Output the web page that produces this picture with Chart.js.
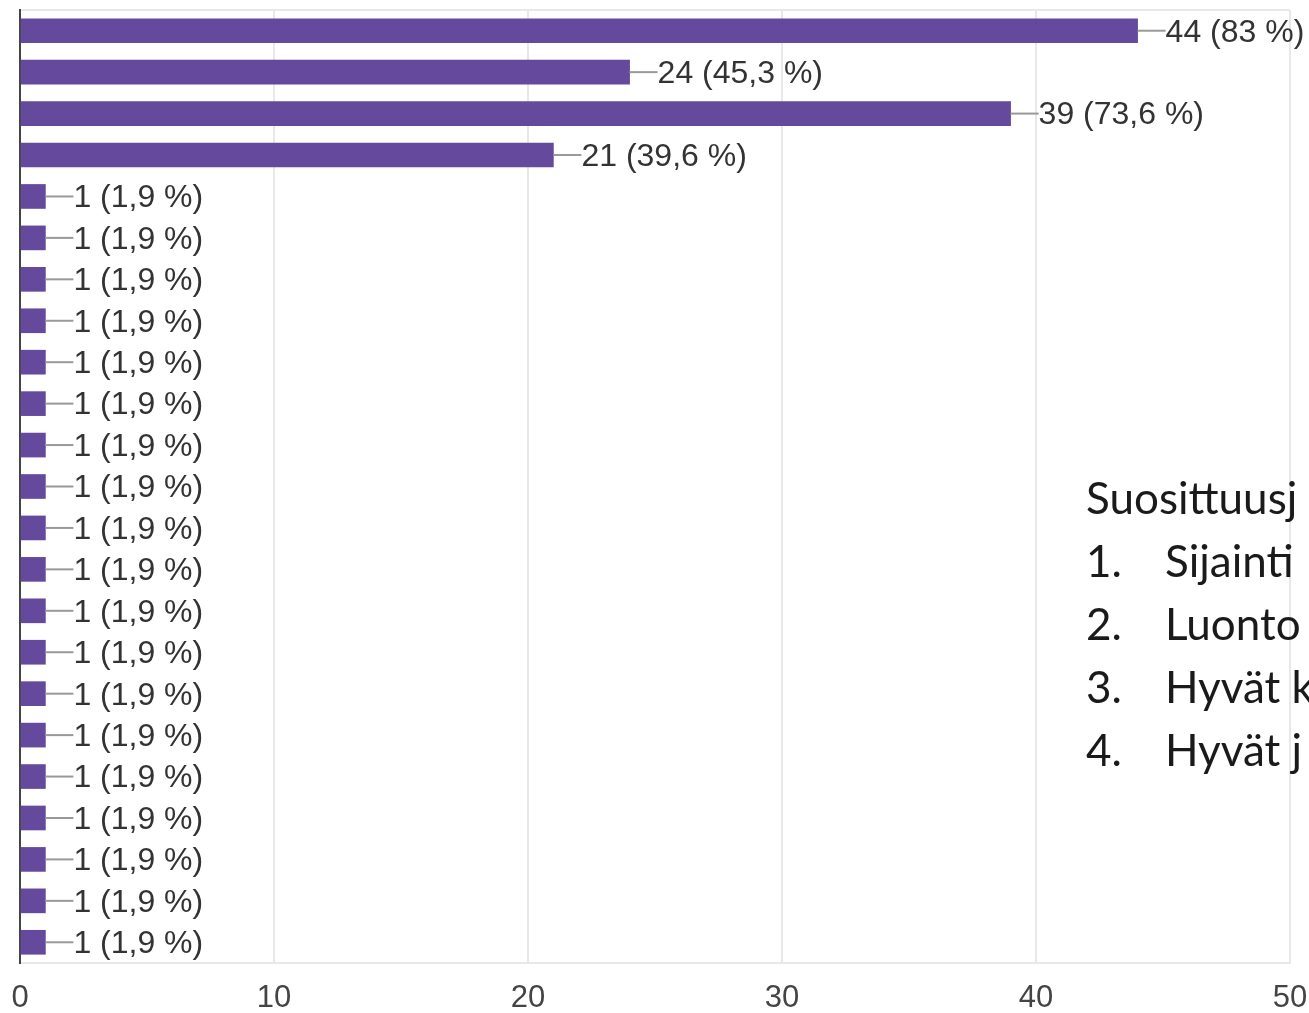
<!DOCTYPE html>
<html>
<head>
<meta charset="utf-8">
<script src="https://cdn.jsdelivr.net/npm/chart.js@4"></script>
<style>
  html, body { margin: 0; padding: 0; background: #fff; overflow: hidden; }
  #wrap { position: relative; width: 1309px; height: 1013px; }
  #note {
    position: absolute; left: 1086px; top: 466px;
    font-family: Lato, "Open Sans", sans-serif; font-size: 44px; color: #1a1a1a;
    line-height: 63px; white-space: nowrap;
  }
  #note span { display: inline-block; width: 79px; }
</style>
</head>
<body>
<div id="wrap">
  <canvas id="graph" width="1309" height="1013"></canvas>
  <div id="note">
    <div>Suosittuusj</div>
    <div><span>1.</span>Sijainti</div>
    <div><span>2.</span>Luonto</div>
    <div><span>3.</span>Hyvät k</div>
    <div><span>4.</span>Hyvät j</div>
  </div>
</div>
<script>
// answer counts, 53 respondents
const totalAnswers = 53
const answers = [44, 24, 39, 21, 1, 1, 1, 1, 1, 1, 1, 1, 1, 1, 1, 1, 1, 1, 1, 1, 1, 1, 1]
const categories = answers.map((_, i) => `Vastaus ${i + 1}`)
const xTicks = [0, 10, 20, 30, 40, 50]

const barColor = "#65499c"

const percentText = (value) => {
  const pct = (Math.round((value / totalAnswers) * 1000) / 10).toString().replace(".", ",")
  return `${value} (${pct} %)`
}

// leader line + value label right of each bar
const valueLabels = {
  id: "valueLabels",
  afterDatasetsDraw(chart) {
    const ctx = chart.ctx
    const meta = chart.getDatasetMeta(0)
    ctx.save()
    ctx.font = "32px 'Liberation Sans', Arial, sans-serif"
    ctx.textBaseline = "middle"
    ctx.fillStyle = "#333"
    meta.data.forEach((bar, i) => {
      ctx.strokeStyle = "#999"
      ctx.lineWidth = 2
      ctx.beginPath()
      ctx.moveTo(bar.x, bar.y)
      ctx.lineTo(bar.x + 28, bar.y)
      ctx.stroke()
      ctx.fillText(percentText(answers[i]), bar.x + 28, bar.y + 2)
    })
    ctx.restore()
  },
}

const createBarChart = (canvas) => {
  const ctx = canvas.getContext("2d")

  return new Chart(ctx, {
    type: "bar",
    data: {
      labels: categories,
      datasets: [
        {
          label: "Vastaukset",
          data: answers,
          backgroundColor: barColor,
          borderWidth: 0,
          barThickness: 24,
        },
      ],
    },
    options: {
      indexAxis: "y",
      responsive: false,
      animation: false,
      layout: { padding: { left: 19, right: 19, top: 10, bottom: 0 } },
      plugins: { legend: { display: false }, tooltip: { enabled: false } },
      scales: {
        x: {
          min: 0,
          max: 50,
          afterBuildTicks: (axis) => {
            axis.ticks = xTicks.map((v) => ({ value: v }))
          },
          afterFit: (axis) => {
            axis.height = 50
            axis.paddingLeft = 0
            axis.paddingRight = 0
          },
          grid: { color: "#e8e8e8", lineWidth: 2, drawTicks: false },
          border: { display: true, color: "#e8e8e8", width: 2 },
          ticks: {
            padding: 17,
            color: "#444",
            font: { family: "'Liberation Sans', Arial, sans-serif", size: 31 },
          },
        },
        y: {
          afterFit: (axis) => {
            axis.width = 1
            axis.paddingTop = 0
            axis.paddingBottom = 0
          },
          grid: {
            drawTicks: false,
            lineWidth: 2,
            color: (c) => (c.index === 0 ? "#e8e8e8" : "transparent"),
          },
          border: { display: true, color: "#444", width: 2 },
          ticks: { display: false },
        },
      },
    },
    plugins: [valueLabels],
  })
}

createBarChart(document.getElementById("graph"))
</script>
</body>
</html>
